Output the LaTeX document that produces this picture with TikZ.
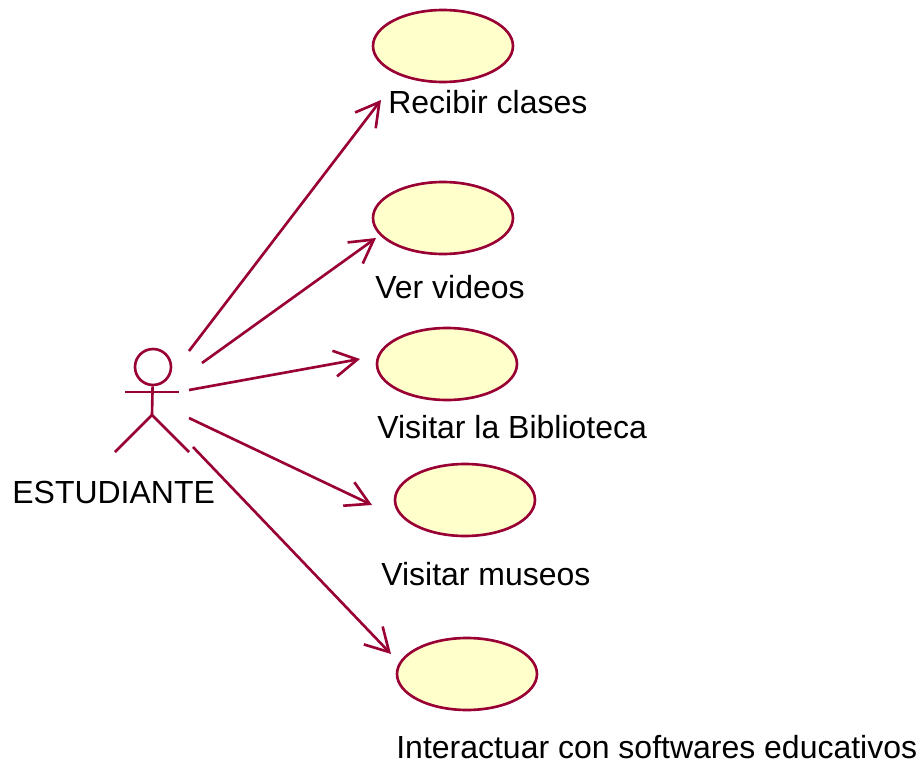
\documentclass[tikz,border=0pt]{standalone}
\usepackage{fontspec}
\setmainfont{Liberation Sans}
\usetikzlibrary{arrows.meta,shapes.geometric}
\definecolor{umlline}{HTML}{990033}
\definecolor{umlfill}{HTML}{FFFFCC}
\tikzset{
    usecase/.style={ellipse,draw=umlline,fill=umlfill,line width=1.5pt,minimum width=2.8cm,minimum height=1.44cm,inner sep=0pt},
    actorline/.style={draw=umlline,line width=1.5pt},
    assoc/.style={draw=umlline,line width=1.5pt,-{Straight Barb[length=0.46cm,width=0.52cm]}},
    label/.style={anchor=base west,inner sep=0pt,font=\fontsize{18.2}{21}\selectfont}
}

\begin{document}
\begin{tikzpicture}[x=0.02cm,y=-0.02cm]
        \useasboundingbox (0,0) rectangle (921,764);

        \node[usecase] (clases) at (443,46) {};
        \node[usecase] (videos) at (443,218) {};
        \node[usecase] (biblioteca) at (447,364) {};
        \node[usecase] (museos) at (465,500) {};
        \node[usecase] (softwares) at (467,674) {};

        \node[label] (tclases) at (388,113) {Recibir clases};
        \node[label] (tvideos) at (375,298) {Ver videos};
        \node[label] (tbiblioteca) at (377,438) {Visitar la Biblioteca};
        \node[label] (tmuseos) at (381,585) {Visitar museos};
        \node[label] (tsoftwares) at (396,758) {Interactuar con softwares educativos};
        \node[label] (testudiante) at (12,503) {ESTUDIANTE};

        % actor
        \node[circle,actorline,minimum size=0.72cm,inner sep=0pt] (head) at (153,367) {};
        \coordinate (arml) at (125,392);
        \coordinate (armr) at (179,392);
        \coordinate (hip) at (152,415);
        \coordinate (legl) at (115,452);
        \coordinate (legr) at (189,452);
        \draw[actorline] (arml) -- (armr);
        \draw[actorline] (head) -- (hip);
        \draw[actorline] (legl) -- (hip) -- (legr);

        % start and end of the arrows
        \coordinate (s1) at (189,351);
        \coordinate (s2) at (202,363);
        \coordinate (s3) at (189,390);
        \coordinate (s4) at (189,418);
        \coordinate (s5) at (193,447);
        \coordinate (e1) at (381,100);
        \coordinate (e2) at (376,238);
        \coordinate (e3) at (360,359);
        \coordinate (e4) at (372,505);
        \coordinate (e5) at (391,654);

        \foreach \i in {1,...,5}
            \draw[assoc] (s\i) -- (e\i);
    \end{tikzpicture}
\end{document}
